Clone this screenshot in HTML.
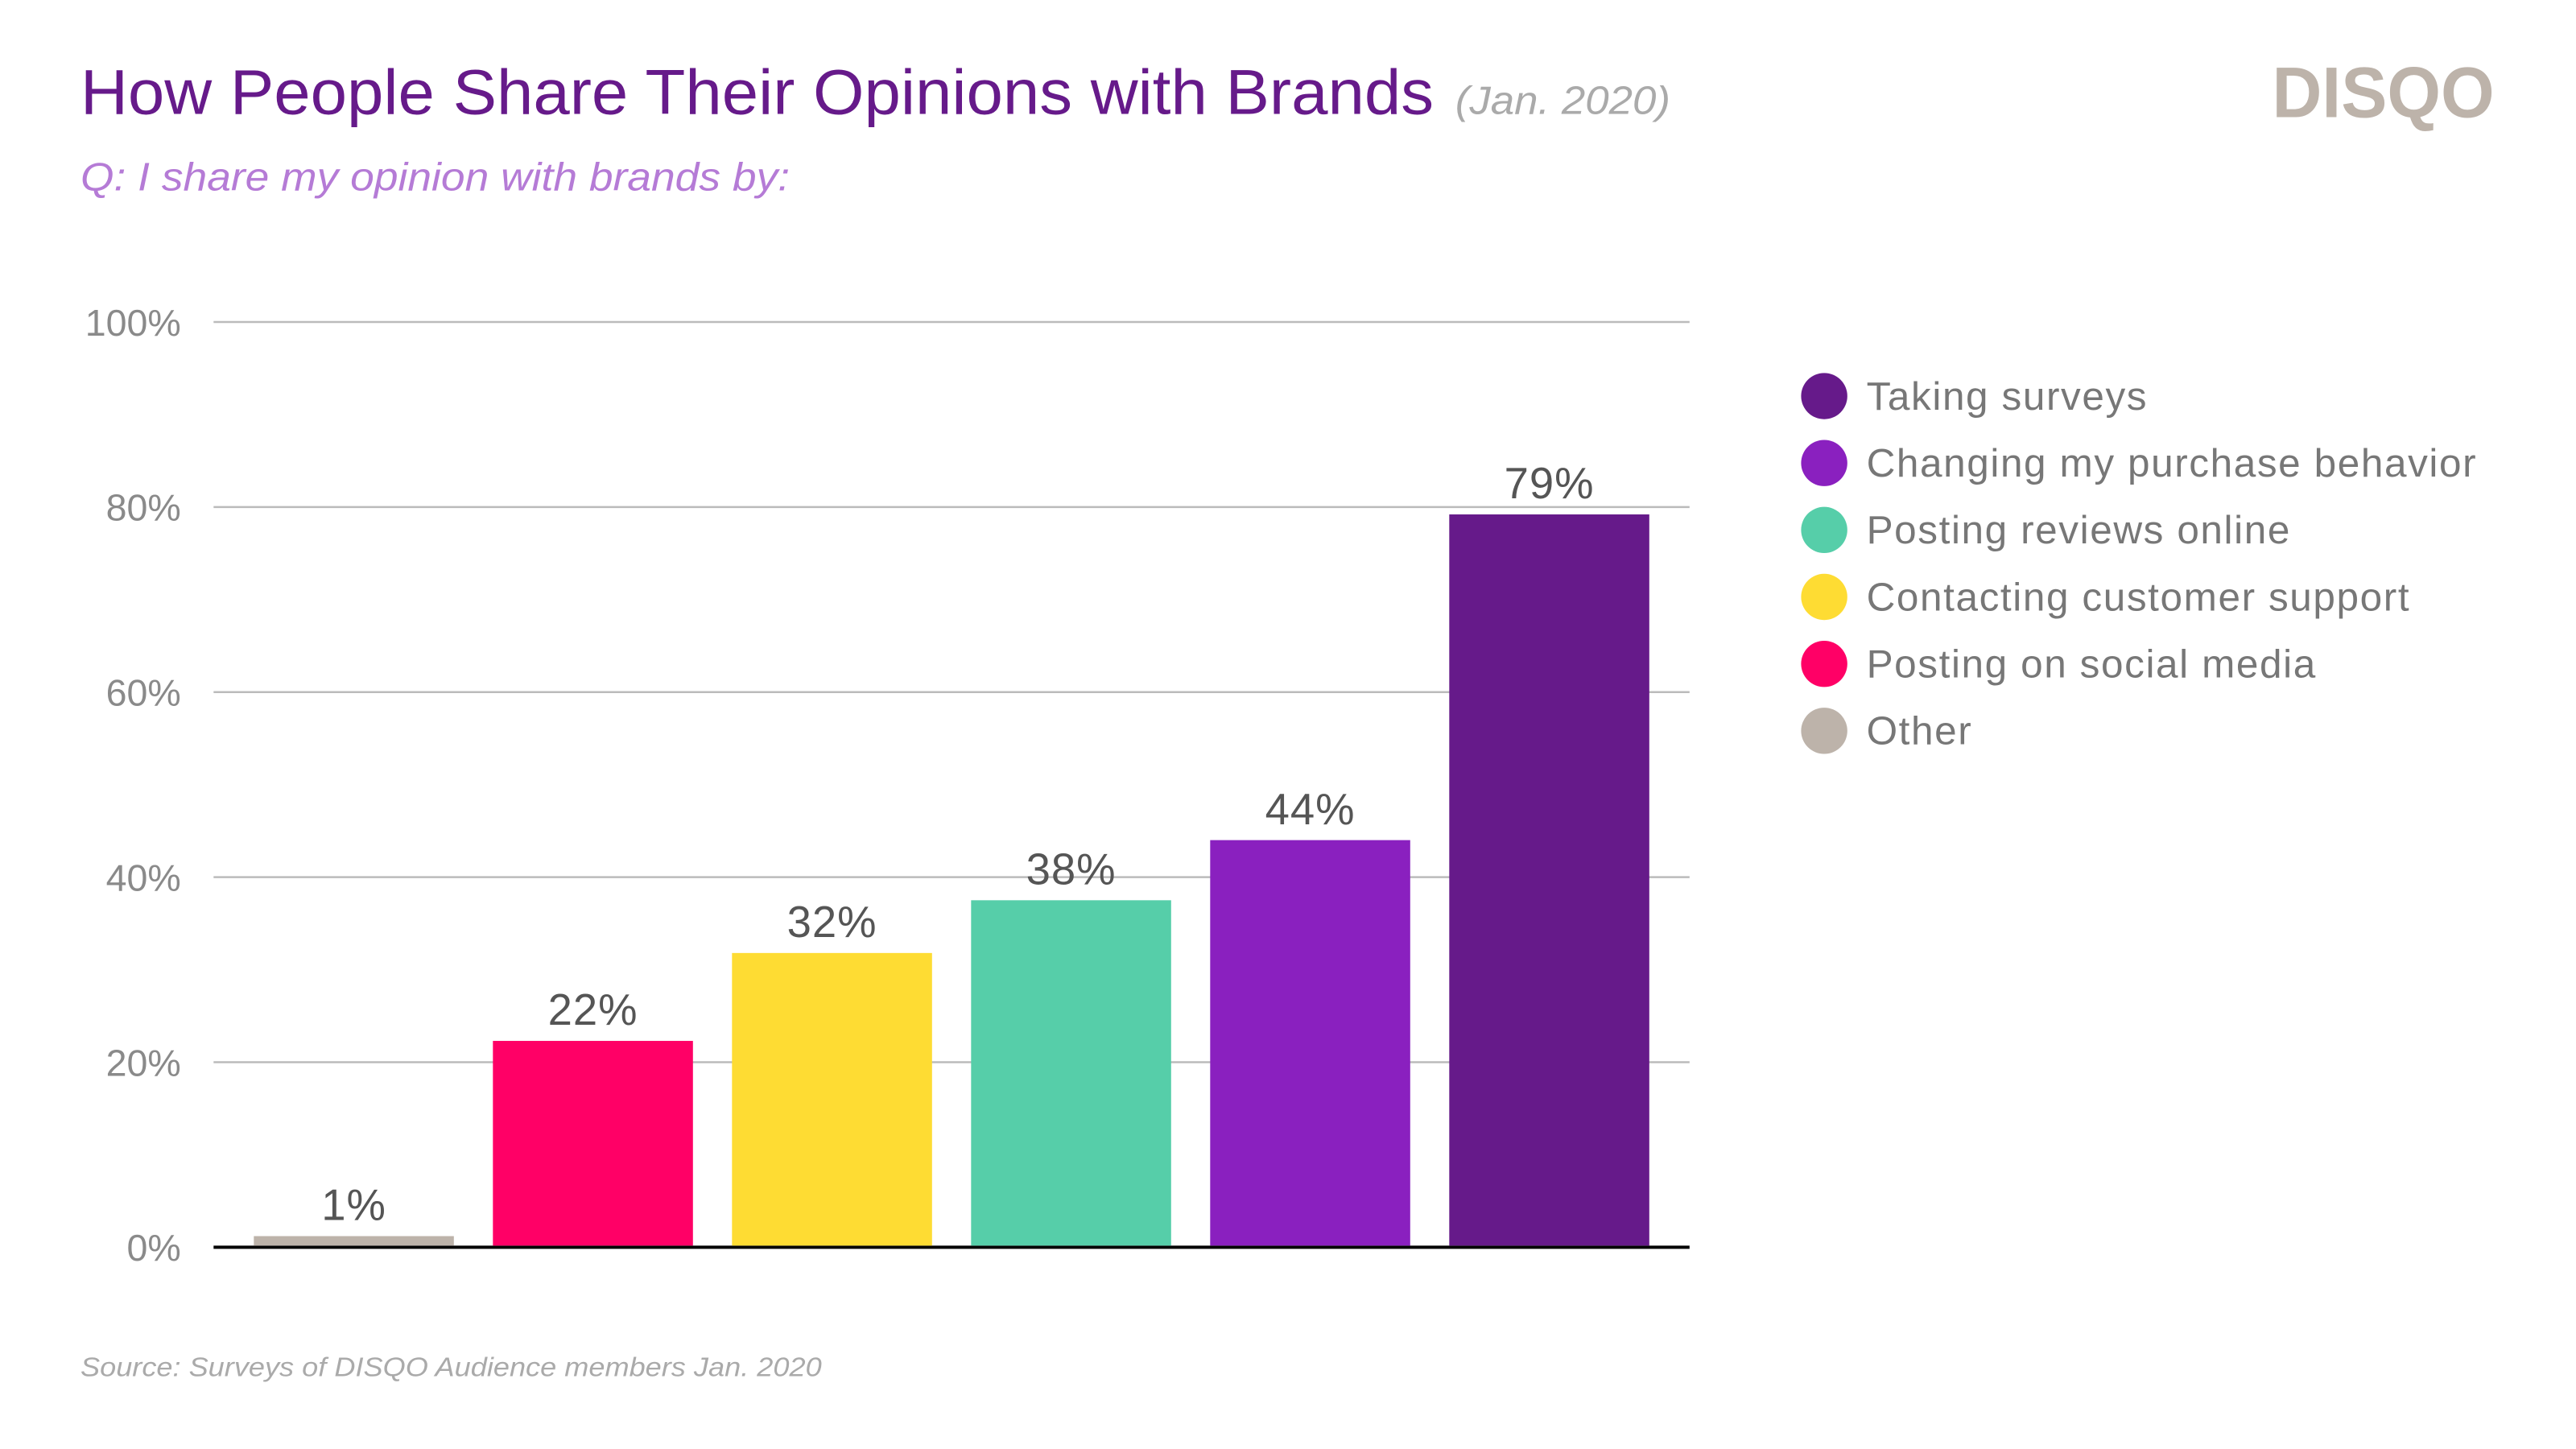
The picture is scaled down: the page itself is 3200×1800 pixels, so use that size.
<!DOCTYPE html>
<html><head><meta charset="utf-8"><style>
html,body{margin:0;padding:0;background:#fff;}
svg{display:block;font-family:"Liberation Sans",sans-serif;}
</style></head><body>
<svg id="chart" width="3200" height="1800" viewBox="0 0 3200 1800" xmlns="http://www.w3.org/2000/svg">
<g transform="scale(0.99)">
<text x="101" y="143" font-size="80" fill="#661a8a" textLength="1698" lengthAdjust="spacingAndGlyphs">How People Share Their Opinions with Brands</text>
<text x="1826" y="143" font-size="50" font-style="italic" fill="#aaa" textLength="270" lengthAdjust="spacingAndGlyphs">(Jan. 2020)</text>
<text x="101" y="239" font-size="50" font-style="italic" fill="#b57bd6" textLength="890" lengthAdjust="spacingAndGlyphs">Q: I share my opinion with brands by:</text>
<text x="2851" y="147" font-size="90" font-weight="bold" fill="#bdb3aa" textLength="279" lengthAdjust="spacingAndGlyphs">DISQO</text>
<g id="grid"></g>
<g id="bars"></g>
<g id="legend"></g>
<text x="101" y="1727" font-size="34" font-style="italic" fill="#aaa" textLength="930" lengthAdjust="spacingAndGlyphs">Source: Surveys of DISQO Audience members Jan. 2020</text>
</g>
</svg>
<script>
const categories = ["Other","Posting on social media","Contacting customer support","Posting reviews online","Changing my purchase behavior","Taking surveys"];
const values = [1.2,22.3,31.8,37.5,44.0,79.2];
const valueLabels = ["1%","22%","32%","38%","44%","79%"];
const colors = ["#bdb3aa","#ff0066","#fedc33","#56cea9","#8a20bf","#661a8a"];
const ticks = [0,20,40,60,80,100];
const tickLabels = ["0%","20%","40%","60%","80%","100%"];
const legendOrder = ["Taking surveys","Changing my purchase behavior","Posting reviews online","Contacting customer support","Posting on social media","Other"];

const NS="http://www.w3.org/2000/svg";
const plotL=268, plotR=2120, y0=1565, y100=404;
const yScale=v=>y0-(y0-y100)*v/100;
const bandL=294, step=300, barW=251;
const xCenter=i=>bandL+step*i+step/2;
function mk(tag,attrs,parent){const e=document.createElementNS(NS,tag);for(const k in attrs)e.setAttribute(k,attrs[k]);parent.appendChild(e);return e;}
const grid=document.getElementById('grid');
ticks.forEach((t,i)=>{
  const l=mk('line',{x1:plotL,x2:plotR,y1:yScale(t),y2:yScale(t),stroke:t===0?'#000':'#bbb','stroke-width':t===0?4:2.5},grid);
  
  
  const tx=mk('text',{x:227,y:yScale(t)+17,'font-size':47,'text-anchor':'end',fill:'#8a8a8a'},grid);
  tx.textContent=tickLabels[i];
  
  
});
const bars=document.getElementById('bars');
values.forEach((v,i)=>{
  const r=mk('rect',{x:xCenter(i)-barW/2,y:yScale(v),width:barW,height:y0-yScale(v)-2,fill:colors[i]},bars);
  
  
  const t=mk('text',{x:xCenter(i),y:yScale(v)-20,'font-size':55,'text-anchor':'middle',fill:'#555','letter-spacing':1},bars);
  t.textContent=valueLabels[i];
  
  
});
const legend=document.getElementById('legend');
legendOrder.forEach((name,i)=>{
  const y=497+i*84;
  const c=mk('circle',{cx:2289,cy:y,r:29,fill:colors[categories.indexOf(name)]},legend);
  
  
  const t=mk('text',{x:2342,y:y+17,'font-size':50,fill:'#777','letter-spacing':1.6},legend);
  t.textContent=name;
  
  
});
</script>
</body></html>
